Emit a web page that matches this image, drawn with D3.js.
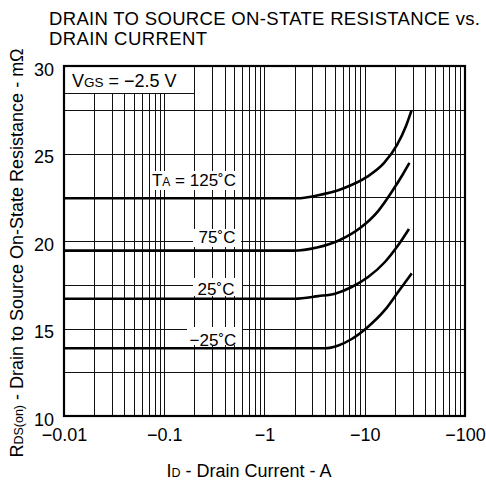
<!DOCTYPE html>
<html>
<head>
<meta charset="utf-8">
<script src="https://cdn.jsdelivr.net/npm/d3@7"></script>
<style>
  body { margin: 0; background: #fff; }
  svg text { font-family: "Liberation Sans", Arial, Helvetica, sans-serif; fill: #000; }
</style>
</head>
<body>
<div id="chart"></div>
<script>
// data (drain current shown as magnitude, axis prints the minus)
var currentTicks = [0.01, 0.1, 1, 10, 100];
var resTicks = [10, 15, 20, 25, 30];

var current125 = [0.01, 2.11, 3.34, 6.07, 10.5, 15.6, 21.0, 25.8, 29.3];
var res125     = [22.44, 22.44, 22.6, 23.0, 23.66, 24.46, 25.49, 26.57, 27.46];

var current75 = [0.01, 1.92, 3.34, 5.66, 8.98, 13.6, 19.1, 24.1, 27.9];
var res75     = [19.45, 19.45, 19.63, 20.06, 20.74, 21.71, 22.91, 23.83, 24.46];

var current25 = [0.01, 2.01, 3.44, 5.05, 7.41, 10.8, 15.9, 21.6, 27.6];
var res25     = [16.7, 16.7, 16.85, 16.99, 17.37, 17.94, 18.8, 19.77, 20.69];

var currentM25 = [0.01, 4.01, 5.45, 7.41, 10.8, 15.9, 21.6, 29.4];
var resM25     = [13.87, 13.87, 14.03, 14.4, 15.1, 16.06, 17.1, 18.15];

var seriesLabels = ["125˚C", "75˚C", "25˚C", "−25˚C"];

// Step 1: chart size
var svg_width = 486;
var svg_height = 486;
var margin = { top: 66, right: 21, bottom: 70, left: 64 };
var width = svg_width - margin.left - margin.right;
var height = svg_height - margin.top - margin.bottom;

var svg = d3.select("#chart").append("svg")
  .attr("width", svg_width)
  .attr("height", svg_height);

var chartGroup = svg.append("g")
  .attr("transform", `translate(${margin.left}, ${margin.top})`);

// Step 2: scales
var xLogScale = d3.scaleLog().domain([0.01, 100]).range([0, width]);
var yLinearScale = d3.scaleLinear().domain([10, 30]).range([height, 0]);

// Step 3: grid
chartGroup.append("g").selectAll("line")
  .data(xLogScale.ticks())
  .enter().append("line")
    .attr("x1", d => Math.round(xLogScale(d)) + 0.5)
    .attr("x2", d => Math.round(xLogScale(d)) + 0.5)
    .attr("y1", 0)
    .attr("y2", height)
    .attr("stroke", "#111")
    .attr("stroke-width", 1);

chartGroup.append("g").selectAll("line")
  .data(d3.range(10, 30.01, 2.5))
  .enter().append("line")
    .attr("x1", 0)
    .attr("x2", width)
    .attr("y1", d => Math.round(yLinearScale(d)) + 0.5)
    .attr("y2", d => Math.round(yLinearScale(d)) + 0.5)
    .attr("stroke", "#111")
    .attr("stroke-width", 1);

// Step 4: curves
var series = [
  { x: current125, y: res125 },
  { x: current75, y: res75 },
  { x: current25, y: res25 },
  { x: currentM25, y: resM25 }
];

var line = d3.line()
  .x(d => xLogScale(d[0]))
  .y(d => yLinearScale(d[1]))
  .curve(d3.curveMonotoneX);

chartGroup.append("g").selectAll("path")
  .data(series)
  .enter().append("path")
    .attr("d", s => line(d3.zip(s.x, s.y)))
    .attr("fill", "none")
    .attr("stroke", "#000")
    .attr("stroke-width", 2.6);

// Step 5: temperature labels on white patches
var labelSpots = [
  { cx: 194, base: 186, box: [150, 171, 90, 19] },
  { cx: 217, base: 243, box: [193, 229, 48, 18] },
  { cx: 216, base: 295, box: [193, 278, 49, 18] },
  { cx: 213, base: 346, box: [187, 327, 55, 18] }
];

seriesLabels.forEach(function(txt, i) {
  var s = labelSpots[i];
  svg.append("rect")
    .attr("x", s.box[0]).attr("y", s.box[1])
    .attr("width", s.box[2]).attr("height", s.box[3])
    .attr("fill", "#fff");
  var t = svg.append("text")
    .attr("x", s.cx)
    .attr("y", s.base)
    .attr("text-anchor", "middle")
    .attr("font-size", 17);
  if (i === 0) {
    t.append("tspan").text("T");
    t.append("tspan").attr("font-size", 12).text("A");
    t.append("tspan").text("  = " + txt);
  } else {
    t.text(txt);
  }
});

// VGS box in the top left corner
chartGroup.append("rect")
  .attr("x", 0)
  .attr("y", 0)
  .attr("width", Math.round(xLogScale(0.2)) + 0.5)
  .attr("height", 27.5)
  .attr("fill", "#fff")
  .attr("stroke", "#111")
  .attr("stroke-width", 1);

var vgs = chartGroup.append("text")
  .attr("x", 8)
  .attr("y", 21)
  .attr("font-size", 18);
vgs.append("tspan").text("V");
vgs.append("tspan").attr("font-size", 13.5).text("GS");
vgs.append("tspan").text(" = −2.5 V");

// frame
chartGroup.append("rect")
  .attr("width", width)
  .attr("height", height)
  .attr("fill", "none")
  .attr("stroke", "#000")
  .attr("stroke-width", 2.2);

// Step 6: axes
var leftAxis = d3.axisLeft(yLinearScale)
  .tickValues(resTicks)
  .tickSize(0)
  .tickPadding(10);

var bottomAxis = d3.axisBottom(xLogScale)
  .tickValues(currentTicks)
  .tickFormat(d => "−" + d)
  .tickSize(0)
  .tickPadding(12);

var yAxisG = chartGroup.append("g").call(leftAxis);
yAxisG.select(".domain").remove();
yAxisG.selectAll("text")
  .attr("font-size", 18)
  .attr("font-family", null)
  .attr("dy", "0.52em");

var xAxisG = chartGroup.append("g")
  .attr("transform", `translate(0, ${height})`)
  .call(bottomAxis);
xAxisG.select(".domain").remove();
xAxisG.selectAll("text")
  .attr("font-size", 18)
  .attr("font-family", null);

// Step 7: titles
svg.append("text")
  .attr("x", 49)
  .attr("y", 25)
  .attr("font-size", 18.5)
  .attr("textLength", 431)
  .attr("lengthAdjust", "spacing")
  .text("DRAIN TO SOURCE ON-STATE RESISTANCE vs.");

svg.append("text")
  .attr("x", 49)
  .attr("y", 45)
  .attr("font-size", 18.5)
  .attr("textLength", 158)
  .attr("lengthAdjust", "spacing")
  .text("DRAIN CURRENT");

var xTitle = svg.append("text")
  .attr("x", 249)
  .attr("y", 477)
  .attr("text-anchor", "middle")
  .attr("font-size", 18);
xTitle.append("tspan").text("I");
xTitle.append("tspan").attr("font-size", 12.5).text("D");
xTitle.append("tspan").text(" - Drain Current - A");

var yTitle = svg.append("text")
  .attr("transform", "translate(23, 253) rotate(-90)")
  .attr("text-anchor", "middle")
  .attr("font-size", 18);
yTitle.append("tspan").text("R");
yTitle.append("tspan").attr("font-size", 12.5).text("DS(on)");
yTitle.append("tspan").text(" - Drain to Source On-State Resistance - mΩ");
</script>
</body>
</html>
